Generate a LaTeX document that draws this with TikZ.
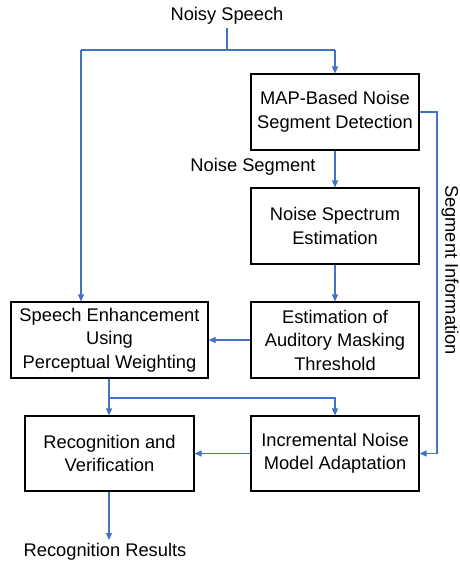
\documentclass[tikz,border=0pt]{standalone}
\usepackage{fontspec}
\setmainfont{Liberation Sans}
\usetikzlibrary{arrows.meta}
\definecolor{lblue}{RGB}{68,114,196}
\begin{document}
\begin{tikzpicture}[x=1pt,y=-1pt,
  every node/.style={font=\fontsize{18.3}{23.5}\selectfont},
  box/.style={draw=black,line width=1.1pt,inner sep=0pt,minimum width=168pt,minimum height=76pt,align=center},
  lbl/.style={inner sep=0pt},
  conn/.style={draw=lblue,line width=1.1pt},
  arr/.style={conn,-{Triangle[length=7pt,width=6pt]}}]
\useasboundingbox (0,0) rectangle (459,565);
\node[lbl] (ns) at (227,16) {Noisy Speech};
\node[box] (map) at (335,112) {MAP-Based Noise\\Segment Detection};
\node[box] (nse) at (335,226) {Noise Spectrum\\Estimation};
\node[box] (eam) at (335,340) {Estimation of\\Auditory Masking\\Threshold};
\node[box,minimum width=197pt] (se) at (109.5,340) {Speech Enhancement\\Using\\Perceptual Weighting};
\node[box,minimum width=169pt,minimum height=75pt] (rv) at (109.5,453.5) {Recognition and\\Verification};
\node[box,minimum height=75pt] (inm) at (335,453.5) {Incremental Noise\\Model Adaptation};
\node[lbl] (nseg) at (253,167) {Noise Segment};
\node[lbl,rotate=-90] (sinfo) at (450,270) {Segment Information};
\node[lbl,anchor=north] (rr) at (105,543) {Recognition Results};
\coordinate (j1) at (227,50);
\coordinate (jl) at (81,50);
\coordinate (jr) at (335,50);
\coordinate (sr) at (437,112);
\coordinate (sb) at (437,453.5);
\coordinate (j2) at (109,398);
\coordinate (j3) at (335,398);
\coordinate (rre) at (109,540);
\draw[conn] (227,28) -- (j1);
\draw[conn] (jl) -- (jr);
\draw[arr] (jl) -- (jl |- se.north);
\draw[arr] (jr) -- (map.north);
\draw[arr] (map.south) -- (nse.north);
\draw[arr] (nse.south) -- (eam.north);
\draw[arr] (eam.west) -- (se.east);
\draw[arr] (map.east) -- (sr) -- (sb) -- (inm.east);
\draw[conn] (j2 |- se.south) -- (j2);
\draw[arr] (j2) -- (j2 |- rv.north);
\draw[arr] (j2) -- (j3) -- (inm.north);
\draw[arr] (inm.west) -- (rv.east);
\draw[arr] (j2 |- rv.south) -- (rre);
\end{tikzpicture}
\end{document}
